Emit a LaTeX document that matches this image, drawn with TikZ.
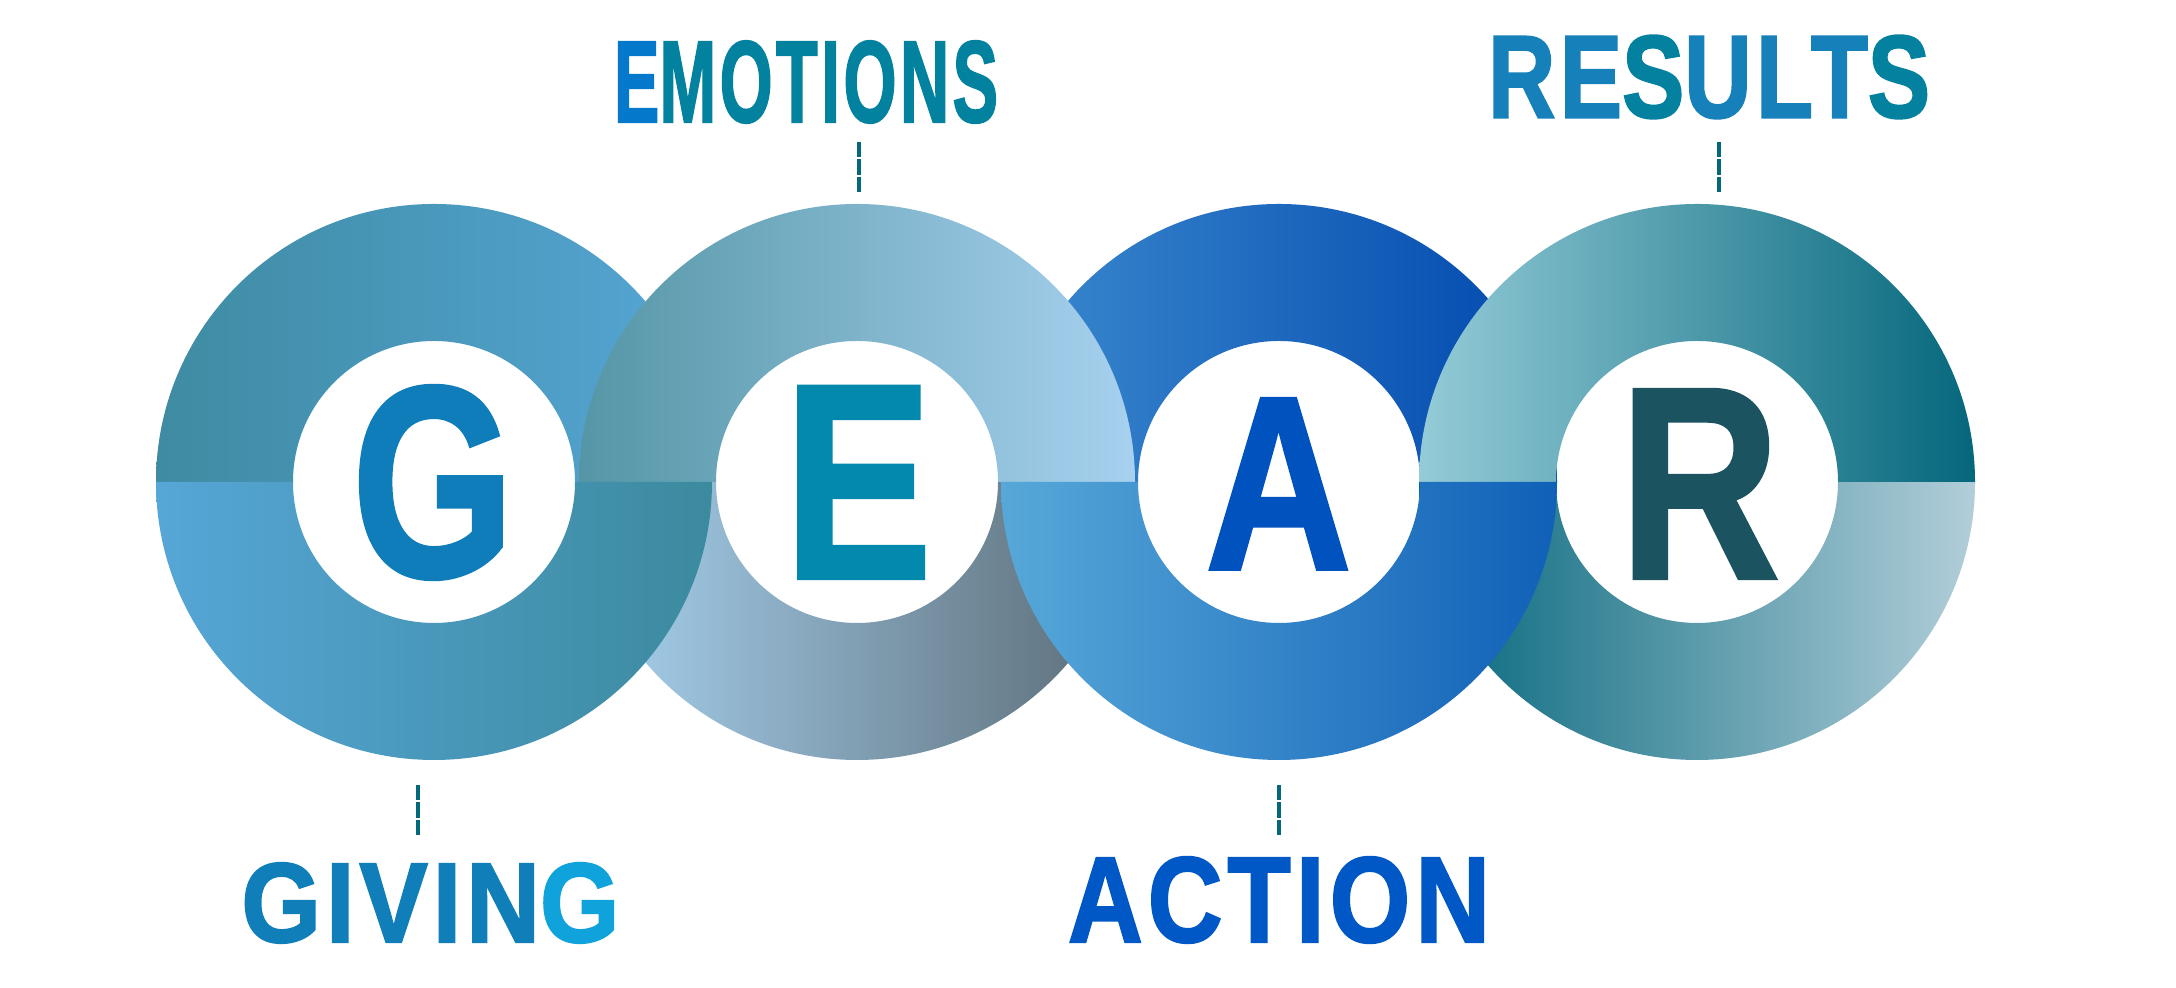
\documentclass[tikz,border=0pt]{standalone}
\usepackage{fontspec}
\usepackage{graphicx}
\usetikzlibrary{positioning}

\newfontfamily\gearfont[BoldFont={Liberation Sans Bold}, BoldFeatures={FakeBold=1.6}]{Liberation Sans}
\newfontfamily\labelfont[BoldFont={Liberation Sans Bold}, BoldFeatures={FakeBold=2}, LetterSpace=5]{Liberation Sans}

\definecolor{gTopL}{HTML}{3E8BA2}
\definecolor{gTopR}{HTML}{56A6D6}
\definecolor{gBotL}{HTML}{56A6D7}
\definecolor{gBotR}{HTML}{3C8A9E}
\definecolor{eTopL}{HTML}{5596A6}
\definecolor{eTopR}{HTML}{A7D1EF}
\definecolor{eBotL}{HTML}{A8D3F1}
\definecolor{eBotR}{HTML}{5A6A74}
\definecolor{aTopL}{HTML}{3C8ACF}
\definecolor{aTopR}{HTML}{0047AD}
\definecolor{aBotL}{HTML}{57A8D8}
\definecolor{aBotR}{HTML}{1060B8}
\definecolor{rTopL}{HTML}{94CBD7}
\definecolor{rTopR}{HTML}{05677C}
\definecolor{rBotL}{HTML}{05677C}
\definecolor{rBotR}{HTML}{B2CED9}

\definecolor{gLetter}{HTML}{0F7DB9}
\definecolor{eLetter}{HTML}{0388AE}
\definecolor{aLetter}{HTML}{0052BE}
\definecolor{rLetter}{HTML}{1C5360}
\definecolor{emoBlue}{HTML}{0478CA}
\definecolor{emoTeal}{HTML}{03829F}
\definecolor{resBlue}{HTML}{1580BA}
\definecolor{resTeal}{HTML}{03819F}
\definecolor{givBlue}{HTML}{107EB8}
\definecolor{givCyan}{HTML}{10A2DA}
\definecolor{actBlue}{HTML}{0058C6}
\definecolor{leaderColor}{HTML}{05677A}

\begin{document}
\begin{tikzpicture}
    [
        ring top/.style = {
                insert path={++(2.78,0) arc[start angle=0, end angle=180, radius=2.78]
                        -- ++(1.37,0) arc[start angle=180, end angle=0, radius=1.41] -- cycle}
            },
        ring bottom/.style = {
                insert path={++(-2.78,0) arc[start angle=180, end angle=360, radius=2.78]
                        -- ++(-1.37,0) arc[start angle=0, end angle=-180, radius=1.41] -- cycle}
            },
        letter/.style = {inner sep=0, font=\gearfont\bfseries},
        word/.style = {inner sep=0, font=\labelfont\bfseries},
        leader/.style = {
                draw=leaderColor,
                line width=0.035cm,
                dash pattern=on 0.155cm off 0.018cm
            },
    ]

    \fill[white] (0,0) rectangle (21.76,9.88);
    \useasboundingbox (0,0) rectangle (21.76,9.88);

    \coordinate (g) at (4.34,5.06);
    \coordinate (e) at (8.57,5.06);
    \coordinate (a) at (12.79,5.06);
    \coordinate (r) at (16.97,5.06);

    % back halves
    \shade[left color=gTopL, right color=gTopR] (g) [ring top];
    \shade[left color=aTopL, right color=aTopR] (a) [ring top];
    \shade[left color=eBotL, right color=eBotR] (e) [ring bottom];
    \shade[left color=rBotL, right color=rBotR] (r) [ring bottom];
    % front halves
    \shade[left color=eTopL, right color=eTopR] (e) [ring top];
    \shade[left color=rTopL, right color=rTopR] (r) [ring top];
    \shade[left color=gBotL, right color=gBotR] (g) [ring bottom];
    \shade[left color=aBotL, right color=aBotR] (a) [ring bottom];

    \node[letter, text=gLetter] (G) at (4.33,5.055) {\resizebox*{1.62cm}{1.93cm}{G}};
    \node[letter, text=eLetter] (E) at (8.58,5.055) {\resizebox*{1.48cm}{1.91cm}{E}};
    \node[letter, text=aLetter] (A) at (12.785,5.04) {\resizebox*{1.46cm}{1.70cm}{A}};
    \node[letter, text=rLetter] (R) at (16.995,5.04) {\resizebox*{1.60cm}{1.88cm}{R}};

    \node[word, text=emoTeal] (emotions) at (8.06,9.06)
        {\resizebox*{3.84cm}{0.82cm}{\textcolor{emoBlue}{E}MOTIONS}};
    \node[word, text=resBlue] (results) at (17.09,9.11)
        {\resizebox*{4.42cm}{0.83cm}{RE\textcolor{resTeal}{S}ULT\textcolor{resTeal}{S}}};
    \node[word, text=givBlue] (giving) at (4.305,0.85)
        {\resizebox*{3.78cm}{0.80cm}{GIVIN\textcolor{givCyan}{G}}};
    \node[word, text=actBlue] (action) at (12.79,0.88)
        {\resizebox*{4.22cm}{0.86cm}{ACTION}};

    \coordinate (emotions-a) at (8.59,8.46);
    \coordinate (emotions-b) at (8.59,7.96);
    \coordinate (results-a) at (17.19,8.46);
    \coordinate (results-b) at (17.19,7.96);
    \coordinate (giving-a) at (4.18,2.03);
    \coordinate (giving-b) at (4.18,1.53);
    \coordinate (action-a) at (12.79,2.03);
    \coordinate (action-b) at (12.79,1.53);

    \draw[leader] (emotions-a) -- (emotions-b);
    \draw[leader] (results-a) -- (results-b);
    \draw[leader] (giving-a) -- (giving-b);
    \draw[leader] (action-a) -- (action-b);

\end{tikzpicture}
\end{document}
